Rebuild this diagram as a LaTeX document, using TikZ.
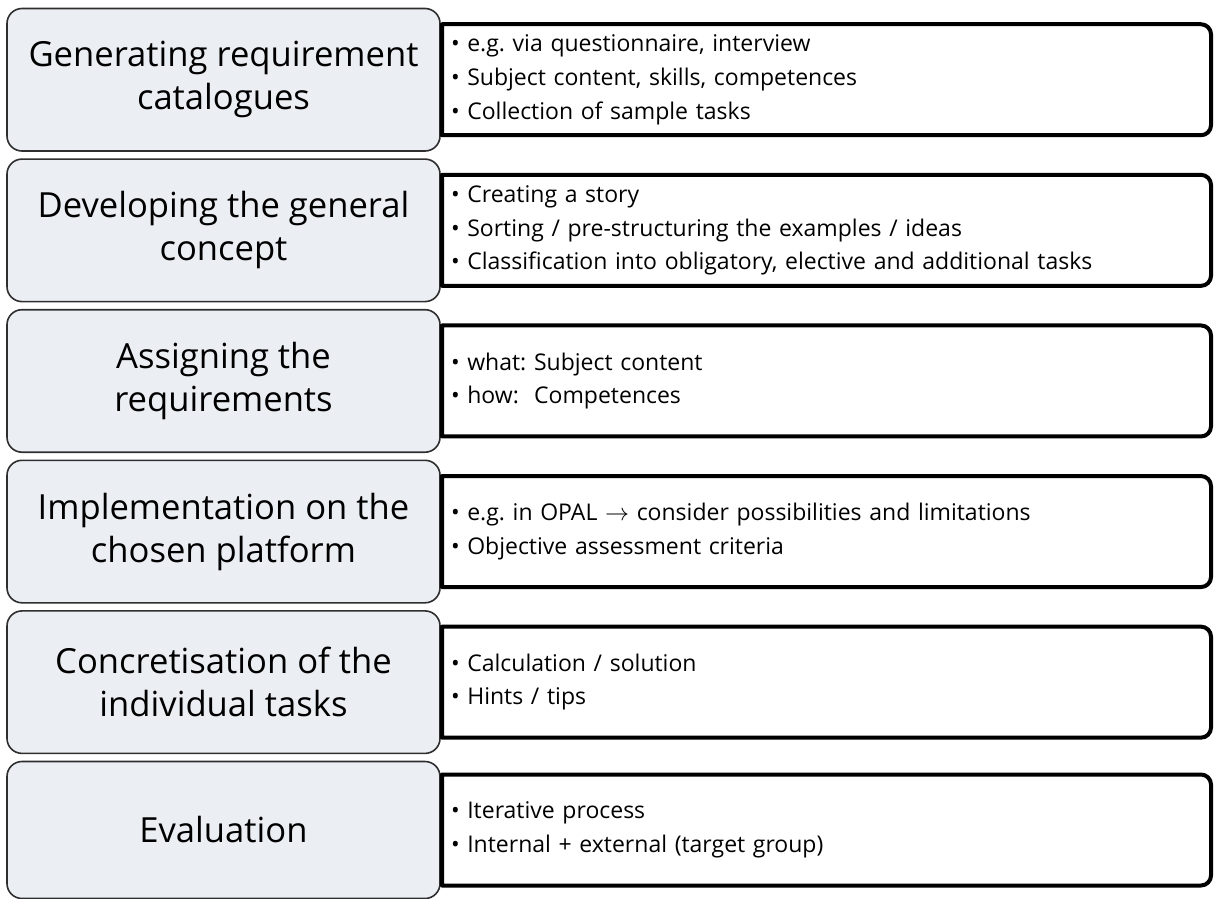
\documentclass[tikz,border=0pt]{standalone}
\usepackage{fontspec}
\setmainfont{Open Sans}
\usetikzlibrary{positioning}

\definecolor{phasefill}{HTML}{EBEEF3}
\definecolor{phaseline}{HTML}{2E2E2E}

\begin{document}
\frenchspacing
\begin{tikzpicture}[
  node distance=4.05pt and 1pt,
  phase/.style={draw=phaseline, line width=0.8pt, rounded corners=7.5pt,
                fill=phasefill, align=center, minimum width=216.5pt,
                minimum height=71.25pt, inner sep=0pt, outer sep=0pt,
                font=\fontsize{17.3}{21.5}\selectfont},
  detail/.style={align=left, text width=375.5pt, minimum height=55.5pt,
                 inner xsep=4.5pt, inner ysep=0pt, outer sep=0pt,
                 font=\fontsize{11.5}{16.8}\selectfont},
  frame/.style={line width=2pt, line join=round}
]
\useasboundingbox (0,0) rectangle (607.5pt,-449.5pt);

% left column: the phases
\node[phase] (gen) at (111.75pt,-39.875pt) {Generating requirement\\ catalogues};
\node[phase, below=of gen] (dev) {Developing the general\\ concept};
\node[phase, below=of dev] (ass) {Assigning the\\ requirements};
\node[phase, below=of ass] (imp) {Implementation on the\\ chosen platform};
\node[phase, below=of imp] (con) {Concretisation of the\\ individual tasks};
\node[phase, below=of con, minimum height=68.5pt] (eva) {Evaluation};

% right column: what each phase contains
\node[detail, right=of gen] (dgen) {\textbullet\ e.g. via questionnaire, interview\\
  \textbullet\ Subject content, skills, competences\\
  \textbullet\ Collection of sample tasks};
\node[detail, right=of dev] (ddev) {\textbullet\ Creating a story\\
  \textbullet\ Sorting / pre-structuring the examples / ideas\\
  \textbullet\ Classification into obligatory, elective and additional tasks};
\node[detail, right=of ass] (dass) {\textbullet\ what: Subject content\\
  \textbullet\ how:\ \ Competences};
\node[detail, right=of imp] (dimp) {\textbullet\ e.g. in OPAL $\rightarrow$ consider possibilities and limitations\\
  \textbullet\ Objective assessment criteria};
\node[detail, right=of con] (dcon) {\textbullet\ Calculation / solution\\
  \textbullet\ Hints / tips};
\node[detail, right=of eva] (deva) {\textbullet\ Iterative process\\
  \textbullet\ Internal + external (target group)};

% frames, square on the left and round on the right
\foreach \d in {dgen, ddev, dass, dimp, dcon, deva}
  \draw[frame] (\d.north west) -- ([xshift=-5pt]\d.north east)
    arc[start angle=90, end angle=0, radius=5pt]
    -- ([yshift=5pt]\d.south east)
    arc[start angle=0, end angle=-90, radius=5pt]
    -- (\d.south west) -- cycle;
\end{tikzpicture}
\end{document}
